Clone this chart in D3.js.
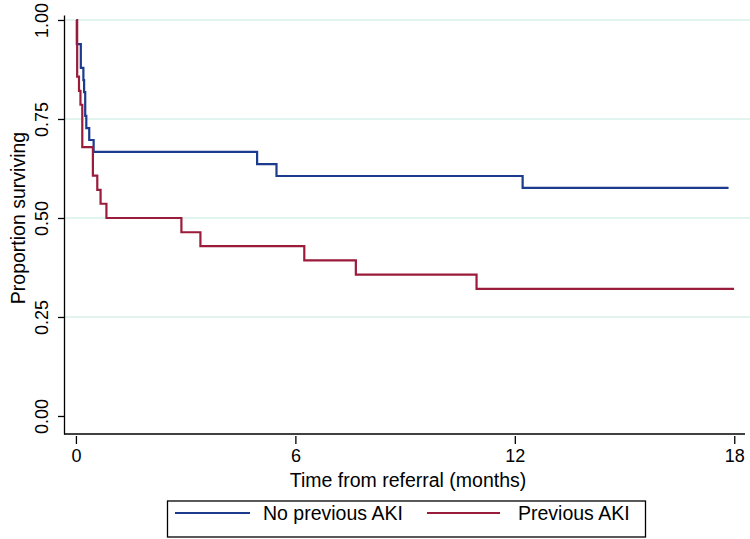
<!DOCTYPE html>
<html>
<head>
<meta charset="utf-8">
<script src="https://cdn.jsdelivr.net/npm/d3@7"></script>
<style>
  html, body { margin: 0; padding: 0; background: #fff; }
  svg { display: block; font-family: "Liberation Sans", Arial, sans-serif; }
</style>
</head>
<body>
<svg id="chart" width="750" height="539"></svg>
<script>
// ---- Data ----
const seriesNames = ["No previous AKI", "Previous AKI"];
// Kaplan-Meier step points: times (months) and survival proportion after each time
const timesNoAKI = [0, 0.01, 0.12, 0.19, 0.21, 0.24, 0.27, 0.35, 0.47, 4.94, 5.47, 12.2, 17.83];
const survNoAKI  = [1.000, 0.939, 0.879, 0.848, 0.818, 0.758, 0.727, 0.697, 0.667, 0.636, 0.606, 0.576, 0.576];
const timesPrevAKI = [0, 0.02, 0.07, 0.11, 0.16, 0.45, 0.57, 0.66, 0.82, 2.87, 3.39, 6.23, 7.64, 10.94, 17.98];
const survPrevAKI  = [1.000, 0.857, 0.821, 0.786, 0.679, 0.607, 0.571, 0.536, 0.500, 0.464, 0.429, 0.393, 0.357, 0.321, 0.321];
const xTicks = [0, 6, 12, 18];
const xTickLabels = ["0", "6", "12", "18"];
const yTicks = [0, 0.25, 0.5, 0.75, 1];
const yTickLabels = ["0.00", "0.25", "0.50", "0.75", "1.00"];
const gridValues = [0.25, 0.5, 0.75, 1];
const colors = ["#1c3a8e", "#9b1b3b"];
const xTitle = "Time from referral (months)";
const yTitle = "Proportion surviving";

// ---- Layout ----
const svg = d3.select("#chart");
const x = d3.scaleLinear().domain([-0.34, 18.28]).range([64, 745]);
const y = d3.scaleLinear().domain([-0.0455, 1.0126]).range([434, 15]);

// gridlines
svg.append("g").attr("class", "grid").selectAll("line").data(gridValues).join("line")
  .attr("x1", 64).attr("x2", 750)
  .attr("y1", d => y(d)).attr("y2", d => y(d))
  .attr("stroke", "#e2f4f0").attr("stroke-width", 2);

// y axis
const yAxis = d3.axisLeft(y).tickValues(yTicks).tickFormat((d, i) => yTickLabels[i]).tickSize(6).tickSizeOuter(0);
const gy = svg.append("g").attr("class", "yaxis").attr("transform", "translate(64,0)").call(yAxis);
gy.select(".domain").attr("stroke", "#000").attr("stroke-width", 1.3);
gy.selectAll(".tick line").attr("stroke", "#000").attr("stroke-width", 1.3);
gy.selectAll(".tick text")
  .attr("font-size", 18).attr("fill", "#000")
  .attr("text-anchor", "middle")
  .attr("x", null).attr("dy", "0.1em")
  .attr("transform", "translate(-18,0) rotate(-90)");

// x axis (line + ticks from the scale)
const gx = svg.append("g").attr("class", "xaxis");
gx.append("line").attr("x1", x.range()[0]).attr("x2", x.range()[1])
  .attr("y1", y.range()[0]).attr("y2", y.range()[0])
  .attr("stroke", "#000").attr("stroke-width", 1.3);
const xt = gx.selectAll("g.xtick").data(xTicks).join("g").attr("class", "xtick")
  .attr("transform", d => `translate(${x(d)},${y.range()[0]})`);
xt.append("line").attr("y1", 2).attr("y2", 10).attr("stroke", "#000").attr("stroke-width", 1.3);
xt.append("text").attr("y", 22).attr("dy", "0.35em").attr("text-anchor", "middle")
  .attr("font-size", 18).attr("fill", "#000").text((d, i) => xTickLabels[i]);

// axis titles
svg.append("text").attr("x", 408).attr("y", 487).attr("text-anchor", "middle")
  .attr("font-size", 19.5).attr("fill", "#000").text(xTitle);
svg.append("text").attr("transform", "translate(18,218) rotate(-90)")
  .attr("text-anchor", "middle").attr("dy", "0.35em")
  .attr("font-size", 19.5).attr("fill", "#000").text(yTitle);

// curves
const line = d3.line().x(d => x(d[0])).y(d => y(d[1])).curve(d3.curveStepAfter);
const series = [
  d3.zip(timesNoAKI, survNoAKI),
  d3.zip(timesPrevAKI, survPrevAKI)
];
svg.append("g").attr("class", "curves").selectAll("path").data(series).join("path")
  .attr("d", line).attr("fill", "none")
  .attr("stroke", (d, i) => colors[i]).attr("stroke-width", 2.2);

// legend
const lg = svg.append("g").attr("class", "legend");
lg.append("rect").attr("x", 167.5).attr("y", 501).attr("width", 478).attr("height", 36)
  .attr("fill", "#fff").attr("stroke", "#000").attr("stroke-width", 1.3);
const legItems = [
  {x1: 175, x2: 250, tx: 263},
  {x1: 427, x2: 500, tx: 518}
];
legItems.forEach((it, i) => {
  lg.append("line").attr("x1", it.x1).attr("x2", it.x2).attr("y1", 513).attr("y2", 513)
    .attr("stroke", colors[i]).attr("stroke-width", 2.2);
  lg.append("text").attr("x", it.tx).attr("y", 513).attr("dy", "0.35em")
    .attr("font-size", 19.5).attr("fill", "#000").text(seriesNames[i]);
});
</script>
</body>
</html>
